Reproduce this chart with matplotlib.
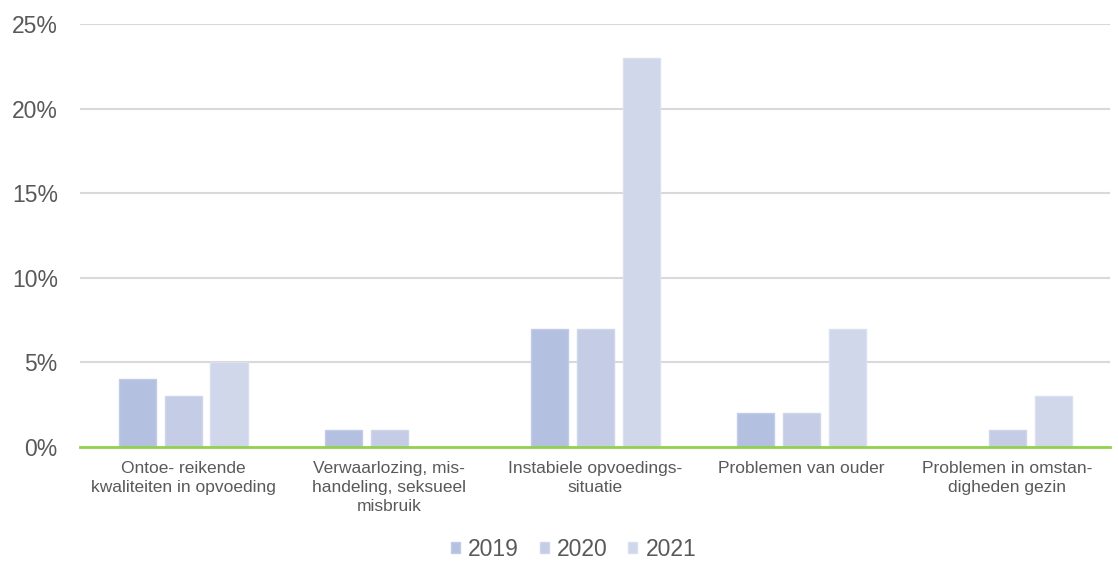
import numpy as np
import matplotlib
matplotlib.use("Agg")
import matplotlib.pyplot as plt
from matplotlib.ticker import FuncFormatter

plt.rcParams['font.family'] = ['Liberation Sans', 'DejaVu Sans']

categories = [
    "Ontoe- reikende\nkwaliteiten in opvoeding",
    "Verwaarlozing, mis-\nhandeling, seksueel\nmisbruik",
    "Instabiele opvoedings-\nsituatie",
    "Problemen van ouder",
    "Problemen in omstan-\ndigheden gezin",
]
years = ["2019", "2020", "2021"]
v2019 = [4, 1, 7, 2, 0]
v2020 = [3, 1, 7, 2, 1]
v2021 = [5, 0, 23, 7, 3]
yticks = [0, 5, 10, 15, 20, 25]

colors = ["#B4C0E0", "#C4CDE5", "#D0D7EA"]
edges = ["#C2CCE6", "#CED6EA", "#DAE0EF"]
txt = "#595959"

fig = plt.figure(figsize=(11.18, 5.69), dpi=100)
ax = fig.add_axes([0.0716, 0.2144, 0.993 - 0.0716, 0.958 - 0.2144])

x = np.arange(len(categories))
offsets = [-0.223, 0.0, 0.223]
for vals, off, c, e, lab in zip([v2019, v2020, v2021], offsets, colors, edges, years):
    lw = [0.0 if v == 0 else 1.0 for v in vals]
    ax.bar(x + off, vals, width=0.18, color=c, edgecolor=e, linewidth=lw, label=lab, zorder=2)

ax.set_xlim(-0.5, len(categories) - 0.5)
ax.set_ylim(0, 25)
ax.set_yticks(yticks)
ax.yaxis.set_major_formatter(FuncFormatter(lambda v, p: "{:.0f}%".format(v)))
for t in yticks[1:]:
    ax.axhline(t, color="#D9D9D9", linewidth=1.5, zorder=1)
ax.axhline(0, color="#92D050", linewidth=2.0, zorder=3, clip_on=False)

for s in ax.spines.values():
    s.set_visible(False)
ax.tick_params(axis="y", length=0, pad=16, labelsize=16.5, labelcolor=txt)
ax.tick_params(axis="x", length=0, pad=10, labelsize=12.5, labelcolor=txt)
ax.set_xticks(x)
ax.set_xticklabels(categories, linespacing=1.35)

fig.legend(loc="center", bbox_to_anchor=(0.513, 0.035), ncol=3, frameon=False,
           fontsize=16.5, labelcolor=txt, handlelength=0.4, handleheight=0.4,
           handletextpad=0.35, columnspacing=0.9)

fig.savefig("out.png", dpi=100)
